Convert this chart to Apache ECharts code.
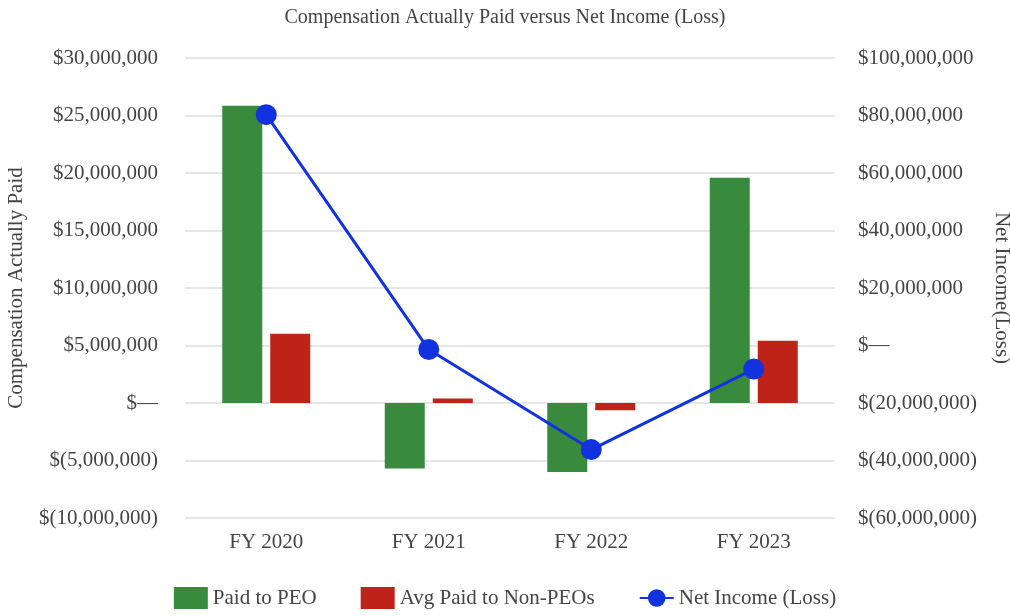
<!DOCTYPE html>
<html>
<head>
<meta charset="utf-8">
<script src="https://cdn.jsdelivr.net/npm/echarts@6/dist/echarts.min.js"></script>
<style>
  html, body { margin: 0; padding: 0; background: #fff; }
  #chart { width: 1010px; height: 616px; }
</style>
</head>
<body>
<div id="chart"></div>
<script>
// values
var years = ['FY 2020', 'FY 2021', 'FY 2022', 'FY 2023'];
var paidToPeo = [25850000, -5690000, -6000000, 19590000];
var avgNonPeo = [6030000, 400000, -640000, 5420000];
var netIncome = [80300000, -1400000, -36200000, -8200000];

var font = '"Liberation Serif", "Times New Roman", serif';

function money(v) {
    if (v === 0) return '$\u2014';
    var s = Math.abs(v).toString().replace(/\B(?=(\d{3})+(?!\d))/g, ',');
    return v < 0 ? '$(' + s + ')' : '$' + s;
}

var chart = echarts.init(document.getElementById('chart'));

chart.setOption({
    animation: false,
    textStyle: { fontFamily: font },
    title: {
        text: 'Compensation Actually Paid versus Net Income (Loss)',
        left: 'center',
        top: 3,
        textStyle: { fontFamily: font, fontSize: 20, fontWeight: 'normal', color: '#444' }
    },
    legend: {
        bottom: 2,
        left: 'center',
        itemWidth: 34,
        itemHeight: 22,
        itemGap: 44,
        textStyle: { fontFamily: font, fontSize: 21, color: '#444' },
        data: [
            { name: 'Paid to PEO', icon: 'rect' },
            { name: 'Avg Paid to Non-PEOs', icon: 'rect' },
            'Net Income (Loss)'
        ]
    },
    grid: { left: 185, right: 175, top: 58, bottom: 98, containLabel: false, outerBoundsMode: 'none' },
    xAxis: {
        type: 'category',
        data: years,
        axisLine: { show: false },
        axisTick: { show: false },
        axisLabel: { fontFamily: font, fontSize: 21, color: '#444', margin: 14 }
    },
    yAxis: [{
        type: 'value',
        min: -10000000,
        max: 30000000,
        interval: 5000000,
        name: 'Compensation Actually Paid',
        nameLocation: 'middle',
        nameGap: 158,
        nameTextStyle: { fontFamily: font, fontSize: 21, color: '#444' },
        axisLabel: { fontFamily: font, fontSize: 21, color: '#444', margin: 27, formatter: money },
        splitLine: { lineStyle: { color: '#e6e6e6', width: 2 } }
    }, {
        type: 'value',
        min: -60000000,
        max: 100000000,
        interval: 20000000,
        name: 'Net Income(Loss)',
        nameLocation: 'middle',
        nameRotate: -90,
        nameGap: 156,
        nameTextStyle: { fontFamily: font, fontSize: 21, color: '#444' },
        axisLabel: { fontFamily: font, fontSize: 21, color: '#444', margin: 23, formatter: money },
        splitLine: { show: false }
    }],
    series: [{
        name: 'Paid to PEO',
        type: 'bar',
        data: paidToPeo,
        barWidth: 40,
        barGap: '20%',
        itemStyle: { color: '#388a3c' }
    }, {
        name: 'Avg Paid to Non-PEOs',
        type: 'bar',
        data: avgNonPeo,
        barWidth: 40,
        itemStyle: { color: '#bf2217' }
    }, {
        name: 'Net Income (Loss)',
        type: 'line',
        yAxisIndex: 1,
        data: netIncome,
        symbol: 'circle',
        symbolSize: 21,
        lineStyle: { color: '#1232e0', width: 3 },
        itemStyle: { color: '#1232e0' }
    }]
});
</script>
</body>
</html>
